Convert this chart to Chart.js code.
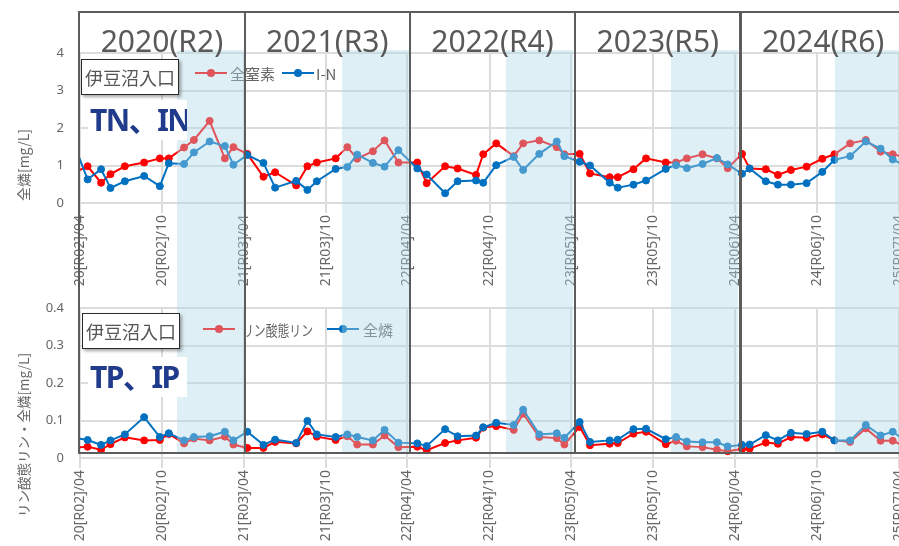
<!DOCTYPE html>
<html lang="ja">
<head>
<meta charset="utf-8">
<title>伊豆沼入口 水質</title>
<script src="https://cdn.jsdelivr.net/npm/chart.js@4.4.1/dist/chart.umd.min.js"></script>
<style>
  html, body { margin: 0; padding: 0; background: #fff; overflow: hidden; }
  #page { position: relative; width: 899px; height: 546px; overflow: hidden; font-family: "Noto Sans", "Noto Sans CJK JP", sans-serif; }
  .panel { position: absolute; left: 0; width: 1000px; }
  #top-panel { top: 0; }
  #bottom-panel { top: 290px; }
  .shade { position: absolute; top: 50px; height: 403px; background: rgba(173, 216, 230, 0.4); pointer-events: none; }
  .year-box { position: absolute; top: 11px; height: 439px; border: 2px solid #5c5c5c; pointer-events: none; }
  .year-box span { display: block; text-align: center; margin-top: 8px; font-size: 30px; line-height: 40px; color: #595959; }
  .site { position: absolute; width: 96px; height: 34px; background: #fff; border: 1.5px solid #2a2a2a;
          box-shadow: 2px 2px 3px rgba(0,0,0,0.35); font-family: "Noto Sans CJK JP", sans-serif;
          font-size: 18px; line-height: 34px; color: #555; text-align: center; }
  .tag { position: absolute; width: 99px; height: 40px; background: #fff; font-family: "Noto Sans", "Noto Sans CJK JP", sans-serif;
         font-weight: bold; font-size: 30px; line-height: 40px; color: #203a8c; padding-left: 2px; box-sizing: border-box;
         white-space: nowrap; letter-spacing: -1.5px; overflow: hidden; }
  .ytitle { position: absolute; left: 23px; transform: translate(-50%, -50%) rotate(-90deg); white-space: nowrap;
            font-family: "Noto Sans CJK JP", sans-serif; color: #666; }
</style>
</head>
<body>
<div id="page">
  <div class="panel" id="top-panel"><canvas id="nitrogen" width="899" height="290"></canvas></div>
  <div class="panel" id="bottom-panel"><canvas id="phosphorus" width="899" height="256"></canvas></div>
  <div class="ytitle" style="top:165px; font-size:14px;">全燐[mg/L]</div>
  <div class="ytitle" style="top:435px; font-size:13.5px;">リン酸態リン・全燐[mg/L]</div>
</div>
<script>
// sampling dates (one before and one after the plotted range so the lines run to the edges)
const sampleDates = [
  '2020-03-18',
  '2020-04-18', '2020-05-18', '2020-06-08', '2020-07-10', '2020-08-22', '2020-09-26',
  '2020-10-16', '2020-11-19', '2020-12-11', '2021-01-15', '2021-02-18', '2021-03-09',
  '2021-04-09', '2021-05-15', '2021-06-10', '2021-07-27', '2021-08-21', '2021-09-11',
  '2021-10-23', '2021-11-18', '2021-12-10', '2022-01-14', '2022-02-09', '2022-03-12',
  '2022-04-23', '2022-05-14', '2022-06-24', '2022-07-22', '2022-09-01', '2022-09-17',
  '2022-10-16', '2022-11-24', '2022-12-15', '2023-01-20', '2023-02-28', '2023-03-17',
  '2023-04-20', '2023-05-13', '2023-06-26', '2023-07-14', '2023-08-18', '2023-09-15',
  '2023-10-29', '2023-11-21', '2023-12-15', '2024-01-19', '2024-02-20', '2024-03-15',
  '2024-04-16', '2024-05-03', '2024-06-08', '2024-07-05', '2024-08-03', '2024-09-07',
  '2024-10-12', '2024-11-08', '2024-12-13', '2025-01-17', '2025-02-19', '2025-03-18',
  '2025-04-17'
];

// 全窒素 (TN) mg/L
const totalNitrogen = [
  0.80,
  0.98, 0.54, 0.77, 0.98, 1.08, 1.19, 1.19, 1.48, 1.68, 2.19, 1.19, 1.49,
  1.31, 0.70, 0.82, 0.47, 0.98, 1.08, 1.19, 1.49, 1.18, 1.38, 1.67, 1.08,
  1.08, 0.53, 0.98, 0.92, 0.75, 1.30, 1.59, 1.25, 1.59, 1.67, 1.49, 1.30,
  1.31, 0.79, 0.69, 0.69, 0.90, 1.19, 1.08, 1.08, 1.19, 1.30, 1.19, 0.93,
  1.31, 0.92, 0.90, 0.75, 0.88, 0.97, 1.18, 1.30, 1.59, 1.68, 1.37, 1.30,
  1.22
];

// I-N mg/L
const inorganicNitrogen = [
  1.58,
  0.63, 0.90, 0.40, 0.58, 0.72, 0.45, 1.06, 1.04, 1.35, 1.64, 1.52, 1.02,
  1.28, 1.07, 0.41, 0.59, 0.35, 0.58, 0.91, 0.96, 1.29, 1.07, 0.97, 1.41,
  0.92, 0.76, 0.26, 0.58, 0.60, 0.54, 1.01, 1.23, 0.88, 1.31, 1.64, 1.25,
  1.10, 1.00, 0.54, 0.41, 0.49, 0.60, 0.91, 1.01, 0.93, 1.04, 1.20, 1.03,
  0.78, 0.92, 0.58, 0.49, 0.49, 0.53, 0.83, 1.15, 1.25, 1.64, 1.45, 1.16,
  0.98
];

// リン酸態リン (IP) mg/L
const phosphate = [
  0.028,
  0.030, 0.022, 0.037, 0.055, 0.047, 0.048, 0.064, 0.039, 0.052, 0.047, 0.057, 0.036,
  0.027, 0.027, 0.043, 0.039, 0.071, 0.057, 0.048, 0.058, 0.036, 0.036, 0.060, 0.029,
  0.030, 0.021, 0.040, 0.047, 0.054, 0.081, 0.085, 0.075, 0.118, 0.056, 0.053, 0.036,
  0.083, 0.034, 0.038, 0.040, 0.065, 0.070, 0.037, 0.046, 0.031, 0.029, 0.022, 0.018,
  0.024, 0.025, 0.041, 0.038, 0.056, 0.054, 0.063, 0.047, 0.043, 0.079, 0.046, 0.046,
  0.030
];

// 全燐 (TP) mg/L
const totalPhosphorus = [
  0.054,
  0.048, 0.035, 0.047, 0.063, 0.109, 0.056, 0.066, 0.047, 0.056, 0.058, 0.070, 0.047,
  0.070, 0.035, 0.049, 0.040, 0.099, 0.063, 0.056, 0.063, 0.056, 0.047, 0.075, 0.041,
  0.039, 0.032, 0.077, 0.058, 0.060, 0.082, 0.094, 0.088, 0.129, 0.063, 0.066, 0.054,
  0.096, 0.043, 0.047, 0.049, 0.077, 0.078, 0.050, 0.056, 0.044, 0.042, 0.042, 0.031,
  0.035, 0.036, 0.061, 0.047, 0.067, 0.064, 0.070, 0.047, 0.047, 0.088, 0.060, 0.070,
  0.045
];

const fiscalYears = ['2020(R2)', '2021(R3)', '2022(R4)', '2023(R5)', '2024(R6)'];
const tickYears = [2020, 2021, 2022, 2023, 2024, 2025];

const RED = 'rgb(255, 0, 0)';
const BLUE = 'rgb(0, 112, 192)';

Chart.defaults.font.family = '"Noto Sans", "Noto Sans CJK JP", sans-serif';
Chart.defaults.color = '#666';

const xMin = Date.UTC(2020, 3, 1);
const xMax = Date.UTC(2025, 3, 1);

// plot frame shared by both panels
const PLOT_LEFT = 80;
const PLOT_RIGHT = 899;

// ticks on 1 April and 1 October
const tickValues = [];
for (const y of tickYears) {
  tickValues.push(Date.UTC(y, 3, 1));
  if (y < 2025) tickValues.push(Date.UTC(y, 9, 1));
}

function tickLabel(ms) {
  const d = new Date(ms);
  const y = d.getUTCFullYear();
  const m = d.getUTCMonth() + 1;
  return String(y).slice(2) + '[R' + String(y - 2018).padStart(2, '0') + ']/' + String(m).padStart(2, '0');
}

function toPoints(values) {
  return values.map((v, i) => ({ x: Date.parse(sampleDates[i]), y: v }));
}

// legend drawn inside the plot: short line with a dot, then the label
const inlineLegend = {
  id: 'inlineLegend',
  afterDatasetsDraw(chart, args, opts) {
    const ctx = chart.ctx;
    ctx.save();
    ctx.font = '15px "Noto Sans CJK JP", sans-serif';
    ctx.textBaseline = 'middle';
    chart.data.datasets.forEach((ds, i) => {
      const item = opts.items[i];
      ctx.strokeStyle = ds.borderColor;
      ctx.fillStyle = ds.borderColor;
      ctx.lineWidth = 2;
      ctx.beginPath();
      ctx.moveTo(item.x, opts.y);
      ctx.lineTo(item.x + 32, opts.y);
      ctx.stroke();
      ctx.beginPath();
      ctx.arc(item.x + 16, opts.y, 4, 0, Math.PI * 2);
      ctx.fill();
      ctx.fillStyle = '#666';
      ctx.fillText(ds.label, item.x + item.gap, opts.y + 1, item.width);
    });
    ctx.restore();
  }
};

function makeChart(canvas, cfg, padLeft) {
  return new Chart(canvas, {
    type: 'line',
    data: {
      datasets: [
        { label: cfg.labels[0], data: toPoints(cfg.red), borderColor: RED, backgroundColor: RED, order: 1 },
        { label: cfg.labels[1], data: toPoints(cfg.blue), borderColor: BLUE, backgroundColor: BLUE, order: 0 }
      ]
    },
    options: {
      responsive: false,
      animation: false,
      events: [],
      layout: { autoPadding: false, padding: { top: cfg.padTop, left: padLeft, right: 0, bottom: 0 } },
      elements: {
        line: { borderWidth: 2, tension: 0 },
        point: { radius: 3.5, borderWidth: 1, hoverRadius: 3.5 }
      },
      plugins: {
        legend: { display: false },
        tooltip: { enabled: false },
        inlineLegend: cfg.legend
      },
      scales: {
        x: {
          type: 'linear',
          min: xMin,
          max: xMax,
          afterBuildTicks(scale) {
            scale.ticks = tickValues.map(v => ({ value: v }));
          },
          afterFit(scale) {
            scale.height = cfg.xHeight;
            scale.paddingLeft = 0;
            scale.paddingRight = 0;
          },
          ticks: {
            autoSkip: false,
            minRotation: 90,
            maxRotation: 90,
            padding: 2,
            font: { size: 14 },
            callback: v => tickLabel(v)
          },
          grid: { color: '#dcdcdc', lineWidth: 2, tickLength: 10 },
          border: { display: false }
        },
        y: {
          min: 0,
          max: cfg.yMax,
          afterFit(scale) {
            scale.width = 80;
            scale.paddingTop = 0;
            scale.paddingBottom = 0;
          },
          ticks: { stepSize: cfg.yStep, padding: 16, font: { size: 13 } },
          grid: { color: '#dcdcdc', lineWidth: 2, drawTicks: false },
          border: { display: false }
        }
      }
    },
    plugins: [inlineLegend]
  });
}

// build, then rebuild once if the plot does not span PLOT_LEFT..PLOT_RIGHT
function buildChart(canvasId, cfg) {
  const canvas = document.getElementById(canvasId);
  let chart = makeChart(canvas, cfg, 0);
  const dl = PLOT_LEFT - chart.chartArea.left;
  const dr = PLOT_RIGHT - chart.chartArea.right;
  if (Math.abs(dl) > 0.5 || Math.abs(dr) > 0.5) {
    const w = Math.round(chart.width + dr);
    const h = chart.height;
    chart.destroy();
    canvas.width = w;
    canvas.height = h;
    canvas.style.width = w + 'px';
    canvas.style.height = h + 'px';
    chart = makeChart(canvas, cfg, Math.max(dl, 0));
  }
  return chart;
}

buildChart('nitrogen', {
  labels: ['全窒素', 'I-N'],
  red: totalNitrogen,
  blue: inorganicNitrogen,
  yMax: 4,
  yStep: 1,
  padTop: 53,
  xHeight: 87,
  legend: { y: 73, items: [{ x: 195, gap: 35, width: 48 }, { x: 282, gap: 34, width: 30 }] }
});

buildChart('phosphorus', {
  labels: ['リン酸態リン', '全燐'],
  red: phosphate,
  blue: totalPhosphorus,
  yMax: 0.4,
  yStep: 0.1,
  padTop: 18,
  xHeight: 88,
  legend: { y: 39, items: [{ x: 203, gap: 39, width: 71 }, { x: 327, gap: 36, width: 31 }] }
});

// fiscal-year frames, with the winter months shaded
const page = document.getElementById('page');
const BOX_LEFT = 78.3;
const BOX_STEP = 165.3;
const SHADE_LEFT = 177;
const SHADE_STEP = 164.5;
const SHADE_WIDTH = 67;

fiscalYears.forEach((label, i) => {
  const shade = document.createElement('div');
  shade.className = 'shade';
  shade.style.left = (SHADE_LEFT + i * SHADE_STEP) + 'px';
  shade.style.width = SHADE_WIDTH + 'px';
  page.appendChild(shade);
});

fiscalYears.forEach((label, i) => {
  const box = document.createElement('div');
  box.className = 'year-box';
  box.style.left = (BOX_LEFT + i * BOX_STEP) + 'px';
  box.style.width = (BOX_STEP - 2) + 'px';
  const title = document.createElement('span');
  title.textContent = label;
  box.appendChild(title);
  page.appendChild(box);
});

function addLabel(cls, text, left, top) {
  const el = document.createElement('div');
  el.className = cls;
  el.textContent = text;
  el.style.left = left + 'px';
  el.style.top = top + 'px';
  page.appendChild(el);
}

addLabel('site', '伊豆沼入口', 81, 59);
addLabel('tag', 'TN、IN', 88, 100);
addLabel('site', '伊豆沼入口', 82, 313);
addLabel('tag', 'TP、IP', 88, 357);
</script>
</body>
</html>
